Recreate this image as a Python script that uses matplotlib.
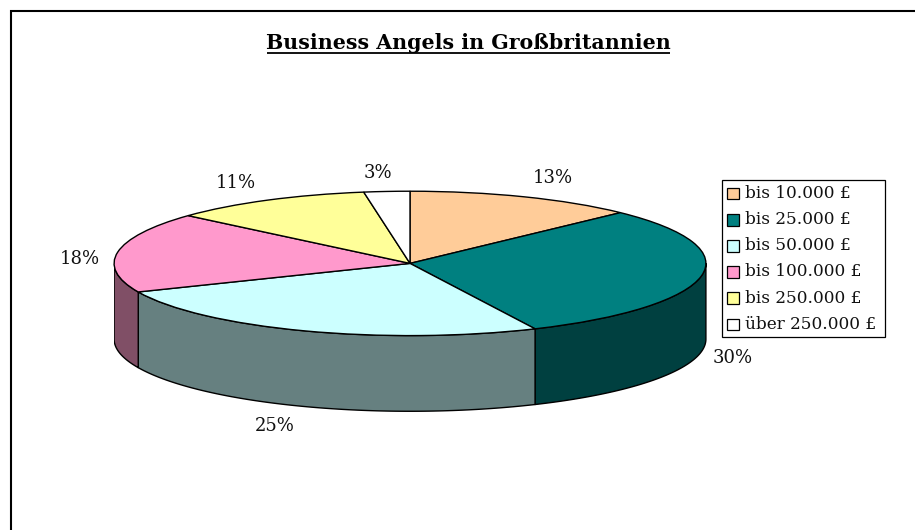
import numpy as np
import matplotlib
matplotlib.use("Agg")
import matplotlib.pyplot as plt
from matplotlib.patches import Rectangle

title = "Business Angels in Großbritannien"
categories = ["bis 10.000 £", "bis 25.000 £", "bis 50.000 £", "bis 100.000 £", "bis 250.000 £", "über 250.000 £"]
values = [12.6, 30.49, 25.49, 18.0, 11.0, 2.5]
labels = ["13%", "30%", "25%", "18%", "11%", "3%"]
top_colors = ["#FFCC99", "#008080", "#CCFFFF", "#FF99CC", "#FFFF99", "#FFFFFF"]
side_colors = ["#7F6650", "#004040", "#668080", "#804F66", "#80804F", "#808080"]

W, H = 915, 530
CX, CY, RX, RY, DEPTH = 410, 263.5, 296.5, 72, 75.5
SERIF = ["DejaVu Serif"]

fig = plt.figure(figsize=(W / 100, H / 100), dpi=100, facecolor="white")

# frame axes in pixel coordinates
bg = fig.add_axes([0, 0, 1, 1])
bg.set_xlim(0, W)
bg.set_ylim(H, 0)
bg.axis("off")
bg.plot([11, 11, W + 5], [H + 5, 11, 11], color="black", lw=1.5, solid_capstyle="butt", solid_joinstyle="miter")

# pie axes: one data unit = one radius horizontally and vertically
ax = fig.add_axes([(CX - RX) / W, 1 - (CY + RY + DEPTH + 1) / H, 2 * RX / W, (2 * RY + DEPTH + 2) / H])
ax.patch.set_alpha(0)
wedges, _ = ax.pie(values, colors=top_colors, startangle=90, counterclock=False, radius=1,
                   wedgeprops=dict(edgecolor="black", linewidth=1.0, zorder=5))
ax.set_aspect("auto")
ax.set_xlim(-1.002, 1.002)
d = DEPTH / RY
ax.set_ylim(-1 - d - 0.01, 1.01)
ax.axis("off")

# side walls
frac = np.cumsum([0] + values) / sum(values)
for i in range(len(values)):
    a0 = max(frac[i] * 2 * np.pi, np.pi / 2)
    a1 = min(frac[i + 1] * 2 * np.pi, 3 * np.pi / 2)
    if a1 <= a0:
        continue
    t = np.linspace(a0, a1, 100)
    x = np.sin(t)
    y = np.cos(t)
    ax.fill(np.r_[x, x[::-1]], np.r_[y, y[::-1] - d], facecolor=side_colors[i],
            edgecolor="black", linewidth=1.0, zorder=2, joinstyle="round")

# data labels (positioned in figure pixels)
label_px = [(553, 178), (733, 358), (275, 426), (80, 259), (236, 183), (378, 173)]
for s, (px, py) in zip(labels, label_px):
    bg.text(px, py, s, ha="center", va="center", fontsize=13, family=SERIF, color="#111111", zorder=10)

# title
bg.text(468.5, 43, title, ha="center", va="center", fontsize=14.8, family=SERIF, weight="bold", color="black")
bg.plot([267, 670], [52.8, 52.8], color="black", lw=1.3, solid_capstyle="butt")

# legend
bg.add_patch(Rectangle((721.5, 179.5), 163.5, 157, facecolor="white", edgecolor="black", lw=0.9, zorder=3))
for i, (c, col) in enumerate(zip(categories, top_colors)):
    yy = 193.7 + i * 26.1
    bg.add_patch(Rectangle((727, yy - 5.7), 12, 11.4, facecolor=col, edgecolor="black", lw=0.9, zorder=4))
    bg.text(745, yy, c, ha="left", va="center", fontsize=12.2, family=SERIF, color="#111111", zorder=4)

fig.savefig("out.png", dpi=100)
